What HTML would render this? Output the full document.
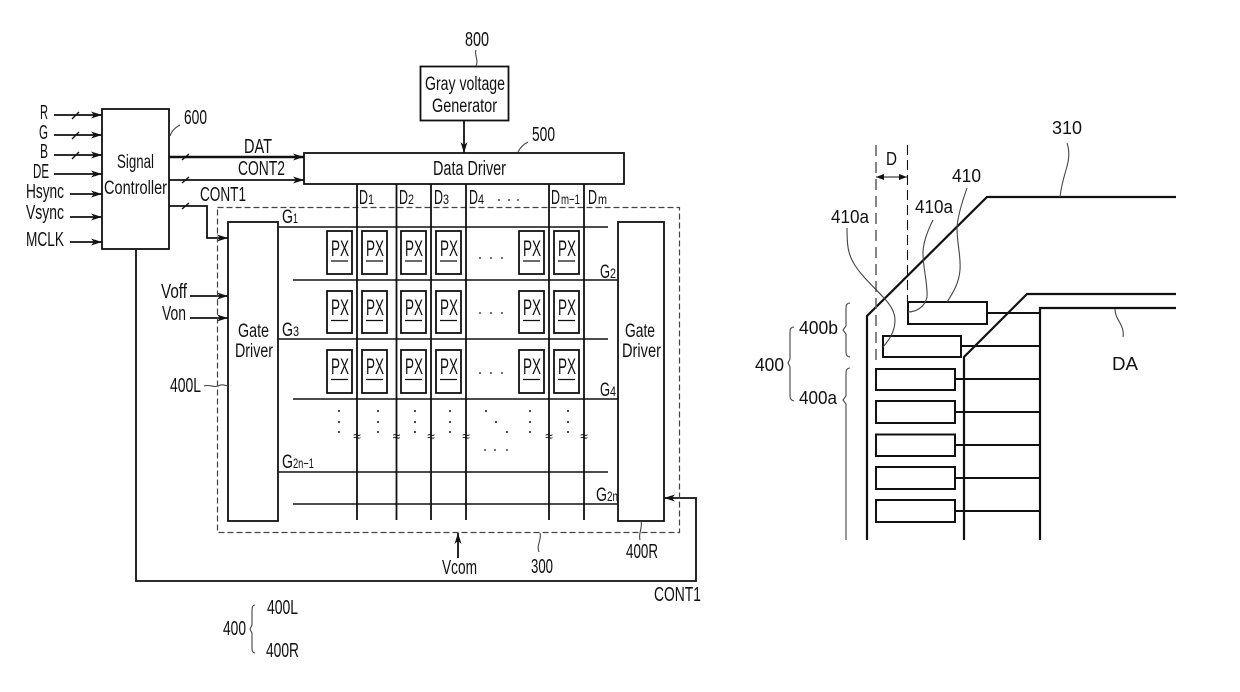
<!DOCTYPE html>
<html><head><meta charset="utf-8"><style>
html,body{margin:0;padding:0;background:#fff}
svg{display:block}
text{font-family:"Liberation Sans",sans-serif;font-size:20px;fill:#111}
.s{font-size:14px}
.m{font-size:19px}
.p text{font-size:22px}
.r text{font-size:18px}
</style></head><body>
<svg width="1240" height="692" viewBox="0 0 1240 692" xmlns="http://www.w3.org/2000/svg">
<defs><marker id="a" markerWidth="12" markerHeight="10" refX="11" refY="5" orient="auto" markerUnits="userSpaceOnUse"><path d="M0 1.500L11 5L0 8.500L3 5Z" fill="#111"/></marker></defs>
<g fill="none" stroke="#111" stroke-width="1.800">
<path d="M54 115H102" marker-end="url(#a)"/><path d="M54 135H102" marker-end="url(#a)"/><path d="M54 155H102" marker-end="url(#a)"/><path d="M54 174H102" marker-end="url(#a)"/><path d="M70 194H102" marker-end="url(#a)"/><path d="M70 217H102" marker-end="url(#a)"/><path d="M70 242H102" marker-end="url(#a)"/>
<path d="M169 157H304" stroke-width="2.400" marker-end="url(#a)"/><path d="M169 180H304" marker-end="url(#a)"/><path d="M169 206H207V238H228" marker-end="url(#a)"/>
<path d="M464 120V153" marker-end="url(#a)"/><path d="M190 296H228" marker-end="url(#a)"/><path d="M190 318H228" marker-end="url(#a)"/><path d="M458 558V533" marker-end="url(#a)"/>
<path d="M136 249V581H696V498H664" marker-end="url(#a)"/>
<path d="M72 119L79 112M72 139L79 132M72 159L79 152M182 160L189 154M182 183L189 177M182 209L189 203" stroke-width="1.400"/>
<rect x="102" y="109" width="67" height="140"/>
<rect x="420.500" y="66.500" width="88" height="54"/>
<rect x="304" y="153" width="320" height="31"/>
<rect x="228" y="222" width="50" height="299"/>
<rect x="618" y="222" width="46" height="299"/>
<rect x="217.500" y="207.500" width="462" height="325" stroke-width="1.200" stroke="#444" stroke-dasharray="6 3"/>
<path d="M357 184V520M396.500 184V520M431 184V520M466 184V520M549 184V520M584 184V520"/>
<path d="M278 227H608M293 280H618M278 339H608M293 399H618M278 472H608M293 504H618" stroke-width="1.500"/>
<g>
<rect x="327" y="231" width="25" height="43"/><rect x="362" y="231" width="25" height="43"/><rect x="401" y="231" width="25" height="43"/><rect x="436" y="231" width="25" height="43"/><rect x="519" y="231" width="25" height="43"/><rect x="554" y="231" width="25" height="43"/>
<rect x="327" y="291" width="25" height="42"/><rect x="362" y="291" width="25" height="42"/><rect x="401" y="291" width="25" height="42"/><rect x="436" y="291" width="25" height="42"/><rect x="519" y="291" width="25" height="42"/><rect x="554" y="291" width="25" height="42"/>
<rect x="327" y="350" width="25" height="43"/><rect x="362" y="350" width="25" height="43"/><rect x="401" y="350" width="25" height="43"/><rect x="436" y="350" width="25" height="43"/><rect x="519" y="350" width="25" height="43"/><rect x="554" y="350" width="25" height="43"/>
</g>
<path d="M331 261H348M366 261H383M405 261H422M440 261H457M523 261H540M558 261H575M331 320.500H348M366 320.500H383M405 320.500H422M440 320.500H457M523 320.500H540M558 320.500H575M331 379.500H348M366 379.500H383M405 379.500H422M440 379.500H457M523 379.500H540M558 379.500H575" stroke-width="1.300"/>
<g stroke="#444" stroke-width="1.100">
<path d="M170 136C172 130 176 127 180 125M476 50C474 55 479 60 476 66M518 152C520 148 524 144 528 142M204 386C210 384 214 388 218 386S224 385 228 386M540 533C542 540 536 545 539 552M641 521C643 528 638 533 640 540"/>
<path d="M255 605C253 605 252 607 252 610V625L250 629L252 633V648C252 651 253 653 255 653"/>
</g>
<path d="M867 540V316L987 197H1176" stroke-width="2.200"/>
<path d="M964 540V357L1027 294H1176" stroke-width="2.200"/>
<path d="M1040 540V308H1176" stroke-width="2.200"/>
<g stroke-width="2">
<rect x="908" y="302" width="79" height="22"/><rect x="883" y="336" width="78" height="21"/>
<rect x="876" y="369" width="79" height="21"/><rect x="876" y="401" width="79" height="22"/><rect x="876" y="434.500" width="79" height="21.500"/><rect x="876" y="467" width="79" height="22"/><rect x="876" y="500" width="79" height="22"/>
<path d="M987 313H1040M961 346H1040M955 379H1040M955 412H1040M955 445H1040M955 478H1040M955 511H1040"/>
</g>
<path d="M876 145V363" stroke="#666" stroke-dasharray="11 6" stroke-width="1.600"/>
<path d="M907.500 145V302" stroke-width="1.100" stroke-dasharray="10 5"/>
<path d="M876 177H907" stroke-width="1"/>
<path d="M876 177L884 174V180ZM907 177L899 174V180Z" fill="#111" stroke="none"/>
<g stroke="#444" stroke-width="1.100">
<path d="M1067 143C1070 152 1069 160 1066 170C1063 180 1061 188 1060 197"/>
<path d="M967 188C962 202 958 215 957 227C957 245 961 255 960 270C959 283 953 293 947 302"/>
<path d="M933 220C927 232 923 243 923 253C923 268 928 285 927 297C925 307 916 312 908 312"/>
<path d="M847 228C847 245 848 253 853 262C860 275 875 288 883 297C890 304 895 312 895 320C895 332 889 340 883 347"/>
<path d="M1115 309C1115 320 1125 325 1123 337"/>
<path d="M850 303C847 303 846 305 846 308V326L843 330L846 334V352C846 355 847 357 850 357"/>
<path d="M850 368C847 368 846 370 846 373V396L843 400L846 404V540"/>
<path d="M794 327C791 327 790 329 790 332V359L788 363L790 367V396C790 399 791 400 794 401"/>
</g>
</g>
<g fill="#111">
<circle cx="480" cy="258" r=".9"/><circle cx="491" cy="258" r=".9"/><circle cx="502" cy="258" r=".9"/>
<circle cx="480" cy="313" r=".9"/><circle cx="491" cy="313" r=".9"/><circle cx="502" cy="313" r=".9"/>
<circle cx="480" cy="373" r=".9"/><circle cx="491" cy="373" r=".9"/><circle cx="502" cy="373" r=".9"/>
<circle cx="339" cy="411" r="1"/><circle cx="339" cy="422" r="1"/><circle cx="339" cy="432" r="1"/>
<circle cx="378" cy="411" r="1"/><circle cx="378" cy="422" r="1"/><circle cx="378" cy="432" r="1"/>
<circle cx="415" cy="411" r="1"/><circle cx="415" cy="422" r="1"/><circle cx="415" cy="432" r="1"/>
<circle cx="450" cy="411" r="1"/><circle cx="450" cy="422" r="1"/><circle cx="450" cy="432" r="1"/>
<circle cx="530" cy="411" r="1"/><circle cx="530" cy="422" r="1"/><circle cx="530" cy="432" r="1"/>
<circle cx="568" cy="411" r="1"/><circle cx="568" cy="422" r="1"/><circle cx="568" cy="432" r="1"/>
<circle cx="486" cy="411" r="1"/><circle cx="496" cy="422" r="1"/><circle cx="507" cy="432" r="1"/>
<circle cx="485" cy="450" r=".9"/><circle cx="495" cy="450" r=".9"/><circle cx="507" cy="450" r=".9"/>
<circle cx="499" cy="200" r=".9"/><circle cx="509" cy="200" r=".9"/><circle cx="518" cy="200" r=".9"/>
</g>
<text class="s" x="357" y="441" text-anchor="middle">≈</text><text class="s" x="396.500" y="441" text-anchor="middle">≈</text><text class="s" x="431" y="441" text-anchor="middle">≈</text><text class="s" x="466" y="441" text-anchor="middle">≈</text><text class="s" x="549" y="441" text-anchor="middle">≈</text><text class="s" x="584" y="441" text-anchor="middle">≈</text>
<g>
<text x="40" y="119" textLength="8" lengthAdjust="spacingAndGlyphs">R</text>
<text x="39" y="139" textLength="9" lengthAdjust="spacingAndGlyphs">G</text>
<text x="40" y="158" textLength="8" lengthAdjust="spacingAndGlyphs">B</text>
<text x="33" y="178" textLength="16" lengthAdjust="spacingAndGlyphs">DE</text>
<text x="26" y="198" textLength="38" lengthAdjust="spacingAndGlyphs">Hsync</text>
<text x="26" y="219" textLength="38" lengthAdjust="spacingAndGlyphs">Vsync</text>
<text x="26" y="246" textLength="38" lengthAdjust="spacingAndGlyphs">MCLK</text>
<text x="184" y="124" textLength="23" lengthAdjust="spacingAndGlyphs">600</text>
<text class="m" x="117" y="168" textLength="37" lengthAdjust="spacingAndGlyphs">Signal</text>
<text class="m" x="104" y="194" textLength="63" lengthAdjust="spacingAndGlyphs">Controller</text>
<text x="244" y="153" textLength="28" lengthAdjust="spacingAndGlyphs">DAT</text>
<text x="238" y="175" textLength="47" lengthAdjust="spacingAndGlyphs">CONT2</text>
<text x="200" y="201" textLength="46" lengthAdjust="spacingAndGlyphs">CONT1</text>
<text x="465" y="46" textLength="24" lengthAdjust="spacingAndGlyphs">800</text>
<text class="m" x="425" y="90" textLength="80" lengthAdjust="spacingAndGlyphs">Gray voltage</text>
<text class="m" x="432" y="112" textLength="65" lengthAdjust="spacingAndGlyphs">Generator</text>
<text x="532" y="141" textLength="23" lengthAdjust="spacingAndGlyphs">500</text>
<text x="433" y="175" textLength="73" lengthAdjust="spacingAndGlyphs">Data Driver</text>
<text x="359" y="204" textLength="9" lengthAdjust="spacingAndGlyphs">D</text><text class="s" x="368" y="204" textLength="6" lengthAdjust="spacingAndGlyphs">1</text>
<text x="399" y="204" textLength="9" lengthAdjust="spacingAndGlyphs">D</text><text class="s" x="408" y="204" textLength="6" lengthAdjust="spacingAndGlyphs">2</text>
<text x="434" y="204" textLength="9" lengthAdjust="spacingAndGlyphs">D</text><text class="s" x="443" y="204" textLength="6" lengthAdjust="spacingAndGlyphs">3</text>
<text x="469" y="204" textLength="9" lengthAdjust="spacingAndGlyphs">D</text><text class="s" x="478" y="204" textLength="6" lengthAdjust="spacingAndGlyphs">4</text>
<text x="551" y="204" textLength="9" lengthAdjust="spacingAndGlyphs">D</text><text class="s" x="561" y="204" textLength="19" lengthAdjust="spacingAndGlyphs">m−1</text>
<text x="588" y="204" textLength="9" lengthAdjust="spacingAndGlyphs">D</text><text class="s" x="598" y="204" textLength="9" lengthAdjust="spacingAndGlyphs">m</text>
<text class="m" x="282" y="223" textLength="11" lengthAdjust="spacingAndGlyphs">G</text><text class="s" x="293" y="223" textLength="5" lengthAdjust="spacingAndGlyphs">1</text>
<text class="m" x="600" y="278" textLength="10" lengthAdjust="spacingAndGlyphs">G</text><text class="s" x="610" y="278" textLength="6" lengthAdjust="spacingAndGlyphs">2</text>
<text class="m" x="282" y="336" textLength="11" lengthAdjust="spacingAndGlyphs">G</text><text class="s" x="293" y="336" textLength="6" lengthAdjust="spacingAndGlyphs">3</text>
<text class="m" x="600" y="396" textLength="10" lengthAdjust="spacingAndGlyphs">G</text><text class="s" x="610" y="396" textLength="6" lengthAdjust="spacingAndGlyphs">4</text>
<text class="m" x="282" y="468" textLength="11" lengthAdjust="spacingAndGlyphs">G</text><text class="s" x="293" y="468" textLength="21" lengthAdjust="spacingAndGlyphs">2n−1</text>
<text class="m" x="596" y="501" textLength="11" lengthAdjust="spacingAndGlyphs">G</text><text class="s" x="607" y="501" textLength="11" lengthAdjust="spacingAndGlyphs">2n</text>
<text class="m" x="238" y="337" textLength="31" lengthAdjust="spacingAndGlyphs">Gate</text>
<text class="m" x="235" y="357" textLength="38" lengthAdjust="spacingAndGlyphs">Driver</text>
<text class="m" x="625" y="337" textLength="30" lengthAdjust="spacingAndGlyphs">Gate</text>
<text class="m" x="622" y="357" textLength="39" lengthAdjust="spacingAndGlyphs">Driver</text>
<text x="161" y="298" textLength="26" lengthAdjust="spacingAndGlyphs">Voff</text>
<text x="162" y="320" textLength="24" lengthAdjust="spacingAndGlyphs">Von</text>
<text x="170" y="392" textLength="31" lengthAdjust="spacingAndGlyphs">400L</text>
<text x="442" y="574" textLength="35" lengthAdjust="spacingAndGlyphs">Vcom</text>
<text x="531" y="573" textLength="22" lengthAdjust="spacingAndGlyphs">300</text>
<text x="626" y="558" textLength="32" lengthAdjust="spacingAndGlyphs">400R</text>
<text x="654" y="601" textLength="47" lengthAdjust="spacingAndGlyphs">CONT1</text>
<text x="223" y="635" textLength="23" lengthAdjust="spacingAndGlyphs">400</text>
<text x="267" y="614" textLength="31" lengthAdjust="spacingAndGlyphs">400L</text>
<text x="266" y="657" textLength="33" lengthAdjust="spacingAndGlyphs">400R</text>
</g>
<g class="p">
<text x="331" y="256" textLength="18" lengthAdjust="spacingAndGlyphs">PX</text><text x="366" y="256" textLength="18" lengthAdjust="spacingAndGlyphs">PX</text><text x="405" y="256" textLength="18" lengthAdjust="spacingAndGlyphs">PX</text><text x="440" y="256" textLength="18" lengthAdjust="spacingAndGlyphs">PX</text><text x="523" y="256" textLength="18" lengthAdjust="spacingAndGlyphs">PX</text><text x="558" y="256" textLength="18" lengthAdjust="spacingAndGlyphs">PX</text>
<text x="331" y="315" textLength="18" lengthAdjust="spacingAndGlyphs">PX</text><text x="366" y="315" textLength="18" lengthAdjust="spacingAndGlyphs">PX</text><text x="405" y="315" textLength="18" lengthAdjust="spacingAndGlyphs">PX</text><text x="440" y="315" textLength="18" lengthAdjust="spacingAndGlyphs">PX</text><text x="523" y="315" textLength="18" lengthAdjust="spacingAndGlyphs">PX</text><text x="558" y="315" textLength="18" lengthAdjust="spacingAndGlyphs">PX</text>
<text x="331" y="374" textLength="18" lengthAdjust="spacingAndGlyphs">PX</text><text x="366" y="374" textLength="18" lengthAdjust="spacingAndGlyphs">PX</text><text x="405" y="374" textLength="18" lengthAdjust="spacingAndGlyphs">PX</text><text x="440" y="374" textLength="18" lengthAdjust="spacingAndGlyphs">PX</text><text x="523" y="374" textLength="18" lengthAdjust="spacingAndGlyphs">PX</text><text x="558" y="374" textLength="18" lengthAdjust="spacingAndGlyphs">PX</text>
</g>
<g class="r">
<text x="1052" y="134" textLength="30" lengthAdjust="spacingAndGlyphs">310</text>
<text x="952" y="182" textLength="29" lengthAdjust="spacingAndGlyphs">410</text>
<text x="886" y="165" textLength="11" lengthAdjust="spacingAndGlyphs">D</text>
<text x="915" y="213" textLength="38" lengthAdjust="spacingAndGlyphs">410a</text>
<text x="831" y="223" textLength="38" lengthAdjust="spacingAndGlyphs">410a</text>
<text x="799" y="334" textLength="39" lengthAdjust="spacingAndGlyphs">400b</text>
<text x="755" y="371" textLength="29" lengthAdjust="spacingAndGlyphs">400</text>
<text x="799" y="404" textLength="38" lengthAdjust="spacingAndGlyphs">400a</text>
<text x="1112" y="370" textLength="26" lengthAdjust="spacingAndGlyphs">DA</text>
</g>
</svg>
</body></html>
